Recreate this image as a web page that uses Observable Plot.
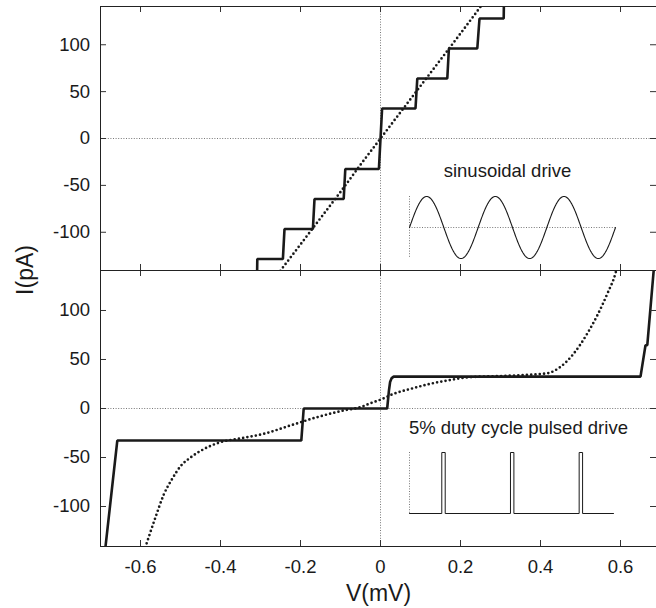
<!DOCTYPE html>
<html><head><meta charset="utf-8">
<script src="https://cdn.jsdelivr.net/npm/d3@7"></script>
<script src="https://cdn.jsdelivr.net/npm/@observablehq/plot@0.6"></script>
<style>
body{margin:0;background:#fff;}
#chart{position:relative;width:656px;height:608px;overflow:hidden;font-family:"Liberation Sans",Arial,sans-serif;color:#1a1a1a;background:#fff}
.layer{position:absolute;}
.ylab{position:absolute;left:25px;top:270px;transform:translate(-50%,-50%) rotate(-90deg);font-size:23px;white-space:nowrap;line-height:1}
</style></head><body><div id="chart"></div><script>
// ---- data ----
const xTicks = [-0.6, -0.4, -0.2, 0, 0.2, 0.4, 0.6];
const yTicks = [-100, -50, 0, 50, 100];
const xDomain = [-0.7, 0.69];

// top panel (sinusoidal drive)
const topSolidV = [-0.309, -0.308, -0.244, -0.240, -0.169, -0.165, -0.092, -0.088, -0.004, 0.004, 0.0875, 0.092, 0.167, 0.171, 0.242, 0.2475, 0.308, 0.309];
const topSolidI = [-160, -128.5, -128.5, -96.5, -96.5, -64.5, -64.5, -32.5, -32.5, 32, 32, 64, 64, 96, 96, 128, 128, 160];
const topDotV = [-0.27, -0.2, -0.15, -0.1, -0.05, 0, 0.05, 0.1, 0.15, 0.2, 0.27];
const topDotI = [-152, -113, -85, -57, -28, 0, 28, 56, 84, 112, 152];

// bottom panel (5% duty cycle pulsed drive)
const botSolidV = [-0.69, -0.6875, -0.658, -0.198, -0.192, 0.0167, 0.021, 0.024, 0.028, 0.033, 0.65, 0.6625, 0.667, 0.683, 0.685];
const botSolidI = [-150, -141, -32.7, -32.7, 0, 0, 18, 27, 31, 32.5, 32.5, 64.6, 64.6, 141, 150];
const botDotV = [-0.595, -0.5875, -0.5625, -0.542, -0.521, -0.5, -0.475, -0.442, -0.4, -0.35, -0.292, -0.225, -0.158, -0.092, -0.05, -0.025, 0, 0.033, 0.075, 0.117, 0.167, 0.225, 0.29, 0.35, 0.417, 0.45, 0.483, 0.517, 0.542, 0.567, 0.5875, 0.595];
const botDotI = [-150, -141, -111, -88, -72, -59, -50, -41.5, -34.4, -30.5, -25.8, -17.3, -8.8, -2, 1.4, 5.4, 9, 15, 20, 24.5, 28.6, 32, 33, 34, 36, 42.5, 56, 76.5, 95, 117, 138, 150];

// insets (drive waveforms)
const sineLabel = "sinusoidal drive";
const pulseLabel = "5% duty cycle pulsed drive";
const sineLabelPos = [0.158, -41.2];
const pulseLabelPos = [0.071, -25.8];
const driveCycles = 3;
const pulseStarts = [0.47, 1.47, 2.47];
const pulseWidth = 0.05;
const pulseEnd = 2.97;

const zip = (a, b) => a.map((v, i) => ({V: v, I: b[i]}));

const FONT = "Liberation Sans, Arial, sans-serif";
const INK = "#1a1a1a";
const baseStyle = {fontFamily: FONT, fontSize: "18.5px", color: INK, background: "transparent", overflow: "visible"};

function panel({height, marginTop, marginBottom, solid, dotted, label, labelPos, showX}) {
  const H = height - marginTop - marginBottom;
  const W = 656 - 100;
  const tk = 6;
  const marks = [
    Plot.ruleY([0], {stroke: "#555", strokeWidth: 0.8, strokeDasharray: "1,1.6"}),
    Plot.ruleX([0], {stroke: "#555", strokeWidth: 0.8, strokeDasharray: "1,1.6"}),
    Plot.line(dotted, {x: "V", y: "I", curve: "monotone-x", stroke: INK, strokeWidth: 2.7, strokeDasharray: "0,4.3", strokeLinecap: "round", clip: true}),
    Plot.line(solid, {x: "V", y: "I", stroke: INK, strokeWidth: 2.6, strokeLinejoin: "miter", clip: true}),
    Plot.tickX(xTicks, {x: d => d, stroke: "#333", insetBottom: H - tk}),
    Plot.tickX(xTicks, {x: d => d, stroke: "#333", insetTop: H - tk}),
    Plot.tickY(yTicks, {y: d => d, stroke: "#333", insetRight: W - tk}),
    Plot.tickY(yTicks, {y: d => d, stroke: "#333", insetLeft: W - tk}),
    Plot.frame({stroke: "#222", strokeWidth: 1}),
    Plot.axisY({ticks: yTicks, tickSize: 0, tickPadding: 10.5, tickFormat: d => String(d), fontSize: 18.5, label: null}),
    Plot.text([label], {x: labelPos[0], y: labelPos[1], text: d => d, textAnchor: "start", lineAnchor: "bottom", fontSize: 18.5, fill: INK})
  ];
  if (showX) {
    marks.push(Plot.axisX({ticks: xTicks, tickSize: 0, tickPadding: 13, tickFormat: d => String(d), fontSize: 18.5, label: null}));
    marks.push(Plot.text(["V(mV)"], {frameAnchor: "bottom", text: d => d, dy: 54, lineAnchor: "bottom", fontSize: 23, fill: INK}));
  }
  return Plot.plot({
    width: 656, height, marginLeft: 100, marginRight: 0, marginTop, marginBottom,
    style: baseStyle,
    x: {domain: xDomain, axis: showX ? undefined : null},
    y: {domain: [-140.8, 140.8]},
    marks
  });
}

const chart = document.getElementById("chart");
function place(el, left, top) {
  const d = document.createElement("div");
  d.className = "layer"; d.style.left = left + "px"; d.style.top = top + "px";
  d.appendChild(el); chart.appendChild(d);
}

const topPlot = panel({height: 270, marginTop: 6, marginBottom: 0, solid: zip(topSolidV, topSolidI), dotted: zip(topDotV, topDotI), label: sineLabel, labelPos: sineLabelPos, showX: false});
const botPlot = panel({height: 338, marginTop: 0, marginBottom: 62, solid: zip(botSolidV, botSolidI), dotted: zip(botDotV, botDotI), label: pulseLabel, labelPos: pulseLabelPos, showX: true});
place(topPlot, 0, 0);
place(botPlot, 0, 270);

// sine inset
const sineData = d3.range(0, driveCycles + 1e-9, 0.01).map(t => ({t, v: Math.sin(2 * Math.PI * t)}));
const sinePlot = Plot.plot({
  width: 206, height: 62, margin: 0, style: baseStyle,
  x: {domain: [0, driveCycles], axis: null}, y: {domain: [-1, 1], axis: null},
  marks: [
    Plot.ruleY([0], {stroke: "#555", strokeWidth: 0.8, strokeDasharray: "1,1.6"}),
    Plot.ruleX([0], {stroke: "#555", strokeWidth: 0.8, strokeDasharray: "1,1.6"}),
    Plot.line(sineData, {x: "t", y: "v", stroke: INK, strokeWidth: 1.1})
  ]
});
place(sinePlot, 409, 196);

// pulse inset
const pulseData = [{t: 0, v: 0}];
pulseStarts.forEach(s => { pulseData.push({t: s, v: 0}, {t: s, v: 1}, {t: s + pulseWidth, v: 1}, {t: s + pulseWidth, v: 0}); });
pulseData.push({t: pulseEnd, v: 0});
const pulsePlot = Plot.plot({
  width: 204, height: 61, margin: 0, style: baseStyle,
  x: {domain: [0, pulseEnd], axis: null}, y: {domain: [0, 1], axis: null},
  marks: [
    Plot.ruleX([0], {stroke: "#555", strokeWidth: 0.8, strokeDasharray: "1,1.6"}),
    Plot.line(pulseData, {x: "t", y: "v", stroke: INK, strokeWidth: 1})
  ]
});
place(pulsePlot, 409, 452);

const yl = document.createElement("div");
yl.className = "ylab"; yl.textContent = "I(pA)";
chart.appendChild(yl);
</script></body></html>
